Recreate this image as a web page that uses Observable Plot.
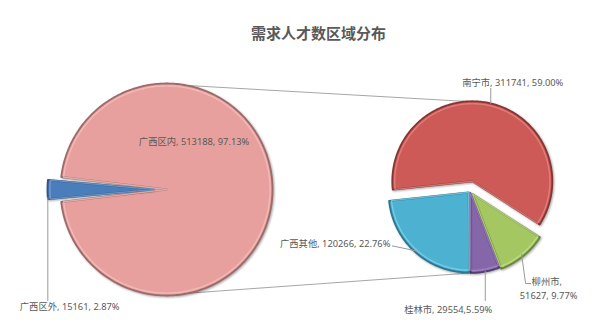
<!DOCTYPE html>
<html><head><meta charset="utf-8">
<script src="https://cdn.jsdelivr.net/npm/d3@7"></script>
<script src="https://cdn.jsdelivr.net/npm/@observablehq/plot@0.6"></script>
<style>
html,body{margin:0;padding:0;background:#fff;}
#wrap{width:602px;height:334px;position:relative;overflow:hidden;background:#fff;}
#title{height:50px;box-sizing:border-box;padding-top:24px;padding-left:35px;line-height:18px;text-align:center;
  font-family:"Noto Sans CJK SC","Noto Sans",sans-serif;font-weight:bold;font-size:15px;color:#595959;}
#chart svg{display:block;}
</style></head><body>
<div id="wrap"><div id="title">需求人才数区域分布</div><div id="chart"></div></div>
<script>
// ---- data ----
const regionNames = ["广西区内", "广西区外"];
const regionValues = [513188, 15161];
const regionLabels = ["广西区内, 513188, 97.13%", "广西区外, 15161, 2.87%"];
const cityNames = ["南宁市", "柳州市", "桂林市", "广西其他"];
const cityValues = [311741, 51627, 29554, 120266];
const cityLabels = ["南宁市, 311741, 59.00%", "柳州市,", "51627, 9.77%", "桂林市, 29554,5.59%", "广西其他, 120266, 22.76%"];

// ---- styles / layout ----
const regionColors = ["#E7A09E", "#4A7EBB"];
const regionEdges = ["#9c6a68", "#2d5486"];
const regionLights = ["#f6c2c0", "#7fa6d6"];
const cityColors = ["#CD5A56", "#A4C761", "#8566A8", "#4DB1D2"];
const cityEdges = ["#853634", "#6a8639", "#543d72", "#2b7690"];
const cityLights = ["#e58a87", "#c6e08f", "#a98bc8", "#86d2ea"];

const W = 602, H = 284;
const deg = Math.PI / 180;
const LP = {cx: 166, cy: 139, r: 106, explode: [0, 13], pad: [1.6, 0]};
const RP = {cx: 469.5, cy: 140.5, r: 80, explode: [10, 4, 2, 2], pad: [0, 0, 0, 0]};

const totalRegion = d3.sum(regionValues);
const leftStart = 1.5 * Math.PI + Math.PI * regionValues[1] / totalRegion;
const rightStart = 264 * deg;

function layoutPie(names, values, fills, edges, lights, P, start) {
  const arcs = d3.pie().sort(null).startAngle(start).endAngle(start + 2 * Math.PI)(values);
  return arcs.map((a, i) => {
    const mid = (a.startAngle + a.endAngle) / 2;
    return {name: names[i], fill: fills[i], edge: edges[i], light: lights[i],
      a0: a.startAngle + P.pad[i] * deg, a1: a.endAngle - P.pad[i] * deg, mid,
      cx: P.cx + P.explode[i] * Math.sin(mid), cy: P.cy - P.explode[i] * Math.cos(mid), r: P.r};
  });
}
const leftSlices = layoutPie(regionNames, regionValues, regionColors, regionEdges, regionLights, LP, leftStart);
const rightSlices = layoutPie(cityNames, cityValues, cityColors, cityEdges, cityLights, RP, rightStart);
const allSlices = [...leftSlices, ...rightSlices];

function arcPt(s, a, rf = 1) { return [s.cx + s.r * rf * Math.sin(a), s.cy - s.r * rf * Math.cos(a)]; }
function fracAngle(s, f) { return s.a0 + (s.a1 - s.a0) * f; }

function slicePoints(s, inset = 0) {
  const n = Math.max(4, Math.ceil((s.a1 - s.a0) / deg));
  const rf = (s.r - inset) / s.r;
  const pts = [{x: s.cx, y: s.cy}];
  for (let k = 0; k <= n; k++) {
    const [x, y] = arcPt(s, s.a0 + (s.a1 - s.a0) * k / n, rf);
    pts.push({x, y});
  }
  pts.push({x: s.cx, y: s.cy});
  return pts;
}

// connectors between the two pies
const [inner] = leftSlices;
const red = rightSlices[0], purple = rightSlices[2];
const lt = arcPt(inner, 11 * deg + 2 * Math.PI), lb = arcPt(inner, 168 * deg + 2 * Math.PI);
const rt = arcPt(red, 356 * deg), rb = arcPt(purple, purple.a1);
const connectors = [
  {x1: lt[0], y1: lt[1], x2: rt[0], y2: rt[1]},
  {x1: lb[0], y1: lb[1], x2: rb[0], y2: rb[1]}
];

// leader lines + labels
const leaders = [], labels = [];
function addLeader(key, pts) { pts.forEach(([x, y]) => leaders.push({key, x, y})); }
{
  const p = [LP.cx + 0.52 * LP.r * Math.sin(30 * deg), LP.cy - 0.52 * LP.r * Math.cos(30 * deg)];
  labels.push({text: regionLabels[0], x: p[0], y: p[1], anchor: "middle"});
  const b = leftSlices[1];
  const s = arcPt(b, fracAngle(b, 0.07));
  addLeader("out", [s, [s[0], 250]]);
  labels.push({text: regionLabels[1], x: s[0] - 28, y: 257, anchor: "start"});
  const r0 = rightSlices[0]; const a = arcPt(r0, r0.mid);
  addLeader("nn", [a, [a[0], 38]]);
  labels.push({text: cityLabels[0], x: a[0] + 22, y: 33, anchor: "middle"});
  const g = rightSlices[1]; const gp = arcPt(g, g.mid, 0.97);
  addLeader("lz", [gp, [gp[0] + 4, 233], [gp[0] + 9, 233]]);
  labels.push({text: cityLabels[1], x: gp[0] + 10, y: 232, anchor: "start"});
  labels.push({text: cityLabels[2], x: gp[0] + 27, y: 246, anchor: "middle"});
  const pp = arcPt(purple, purple.mid);
  addLeader("gl", [pp, [pp[0], 250]]);
  labels.push({text: cityLabels[3], x: pp[0] + 7, y: 260, anchor: "end"});
  const cy = rightSlices[3]; const cp = arcPt(cy, cy.mid, 0.98);
  addLeader("qt", [cp, [cp[0] - 24, cp[1] - 5]]);
  labels.push({text: cityLabels[4], x: cp[0] - 26, y: cp[1] - 7, anchor: "end"});
}

const font = '"Noto Sans","Noto Sans CJK SC",sans-serif';
const textMarks = ["start", "middle", "end"].map(an =>
  Plot.text(labels.filter(d => d.anchor === an), {x: "x", y: "y", text: "text", textAnchor: an,
    fill: "#595959", fontSize: 9.3, fontFamily: font, lineAnchor: "middle"}));

const sliceMarks = allSlices.map(s =>
  Plot.line(slicePoints(s), {x: "x", y: "y", fill: s.fill, stroke: s.edge, strokeWidth: 1.8,
    strokeLinejoin: "round", curve: "linear"}));
const highlightMarks = allSlices.map(s =>
  Plot.line(slicePoints(s, 2.4), {x: "x", y: "y", fill: "none", stroke: s.light, strokeWidth: 1.4,
    strokeOpacity: 0.75, strokeLinejoin: "round", curve: "linear"}));

const chart = Plot.plot({
  width: W, height: H, margin: 0,
  x: {domain: [0, W], range: [0, W], axis: null},
  y: {domain: [0, H], range: [0, H], axis: null},
  style: {background: "transparent", fontFamily: font},
  marks: [
    Plot.link(connectors, {x1: "x1", y1: "y1", x2: "x2", y2: "y2", stroke: "#a6a6a6", strokeWidth: 1}),
    ...sliceMarks,
    ...highlightMarks,
    Plot.line(leaders, {x: "x", y: "y", z: "key", stroke: "#9a9a9a", strokeWidth: 1}),
    ...textMarks
  ]
});
document.getElementById("chart").appendChild(chart);
const lineGroups = [...chart.querySelectorAll('g[aria-label="line"]')];
lineGroups.slice(0, allSlices.length).forEach(gr => {
  gr.style.filter = "drop-shadow(1px 1.2px 1.2px rgba(0,0,0,0.35))";
});
</script>
</body></html>
